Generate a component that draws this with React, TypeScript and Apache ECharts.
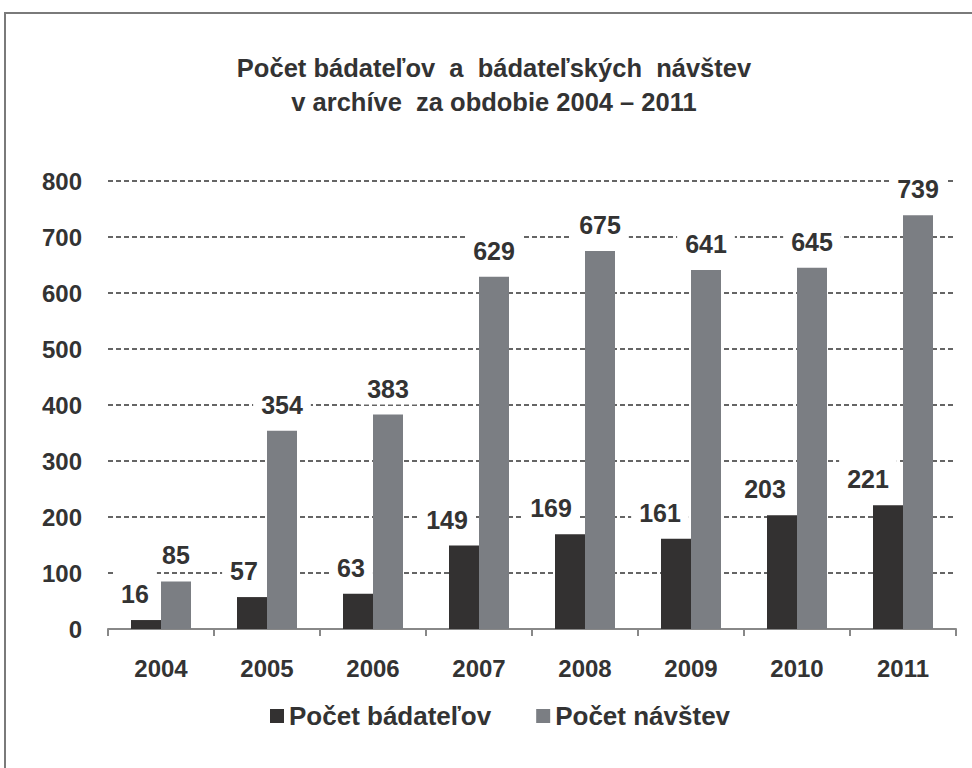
import React, { useEffect, useRef } from "react";
import * as echarts from "echarts";

const categories = ["2004", "2005", "2006", "2007", "2008", "2009", "2010", "2011"];
const researchers = [16, 57, 63, 149, 169, 161, 203, 221];
const visits = [85, 354, 383, 629, 675, 641, 645, 739];
const seriesNames = ["Počet bádateľov", "Počet návštev"];
const titleText = "Počet bádateľov  a  bádateľských  návštev\nv archíve  za obdobie 2004 – 2011";

// horizontal nudges of the dark-series value labels (layout only)
const darkLabelShift = [-11, -8, -7, -17, -19, -16, -17, -20];

const FONT = "Liberation Sans, Arial, sans-serif";

export default function App() {
  const ref = useRef<HTMLDivElement>(null);
  useEffect(() => {
    if (!ref.current) return;
    const chart = echarts.init(ref.current, undefined, { renderer: "svg" });
    const labelStyle = {
      show: true,
      position: "top" as const,
      distance: 10,
      fontFamily: FONT,
      fontWeight: "bold" as const,
      fontSize: 25,
      lineHeight: 26,
      color: "#333",
      backgroundColor: "#fff",
      padding: [12, 8, 3, 8],
    };
    chart.setOption({
      animation: false,
      backgroundColor: "#fff",
      title: {
        text: titleText,
        left: 489,
        textAlign: "center",
        top: 46,
        textStyle: {
          fontFamily: FONT,
          fontWeight: "bold",
          fontSize: 25.5,
          lineHeight: 34,
          color: "#333",
        },
      },
      graphic: [
        {
          type: "rect",
          shape: { x: 5, y: 13, width: 1000, height: 800 },
          style: { fill: "none", stroke: "#7a7a7a", lineWidth: 2 },
          silent: true,
          z: -1,
        },
      ],
      legend: {
        data: seriesNames,
        left: 265,
        top: 698,
        itemWidth: 14,
        itemHeight: 14,
        itemGap: 45,
        icon: "rect",
        textStyle: {
          fontFamily: FONT,
          fontWeight: "bold",
          fontSize: 26,
          color: "#333",
        },
      },
      grid: { left: 108, right: 16, top: 181, bottom: 139 },
      xAxis: {
        type: "category",
        data: categories,
        axisLine: { show: true, lineStyle: { color: "#888", width: 2 } },
        axisTick: { show: true, length: 7, lineStyle: { color: "#888", width: 2 } },
        axisLabel: {
          margin: 27,
          fontFamily: FONT,
          fontWeight: "bold",
          fontSize: 24,
          color: "#333",
        },
      },
      yAxis: {
        type: "value",
        min: 0,
        max: 800,
        interval: 100,
        axisLine: { show: false },
        axisTick: { show: false },
        axisLabel: {
          margin: 26,
          fontFamily: FONT,
          fontWeight: "bold",
          fontSize: 24,
          color: "#333",
        },
        splitLine: { show: true, lineStyle: { color: "#333", width: 1.6, type: [5, 3] } },
      },
      series: [
        {
          name: seriesNames[0],
          type: "bar",
          data: researchers.map((v, i) => ({
            value: v,
            label: { offset: [darkLabelShift[i], 0] },
          })),
          barWidth: 30,
          barGap: "0%",
          itemStyle: { color: "#333131" },
          label: labelStyle,
        },
        {
          name: seriesNames[1],
          type: "bar",
          data: visits,
          barWidth: 30,
          barGap: "0%",
          itemStyle: { color: "#7b7e83" },
          label: labelStyle,
        },
      ],
    });
    return () => chart.dispose();
  }, []);
  return (
    <div
      ref={ref}
      style={{ position: "fixed", left: 0, top: 0, width: 972, height: 768 }}
    />
  );
}
